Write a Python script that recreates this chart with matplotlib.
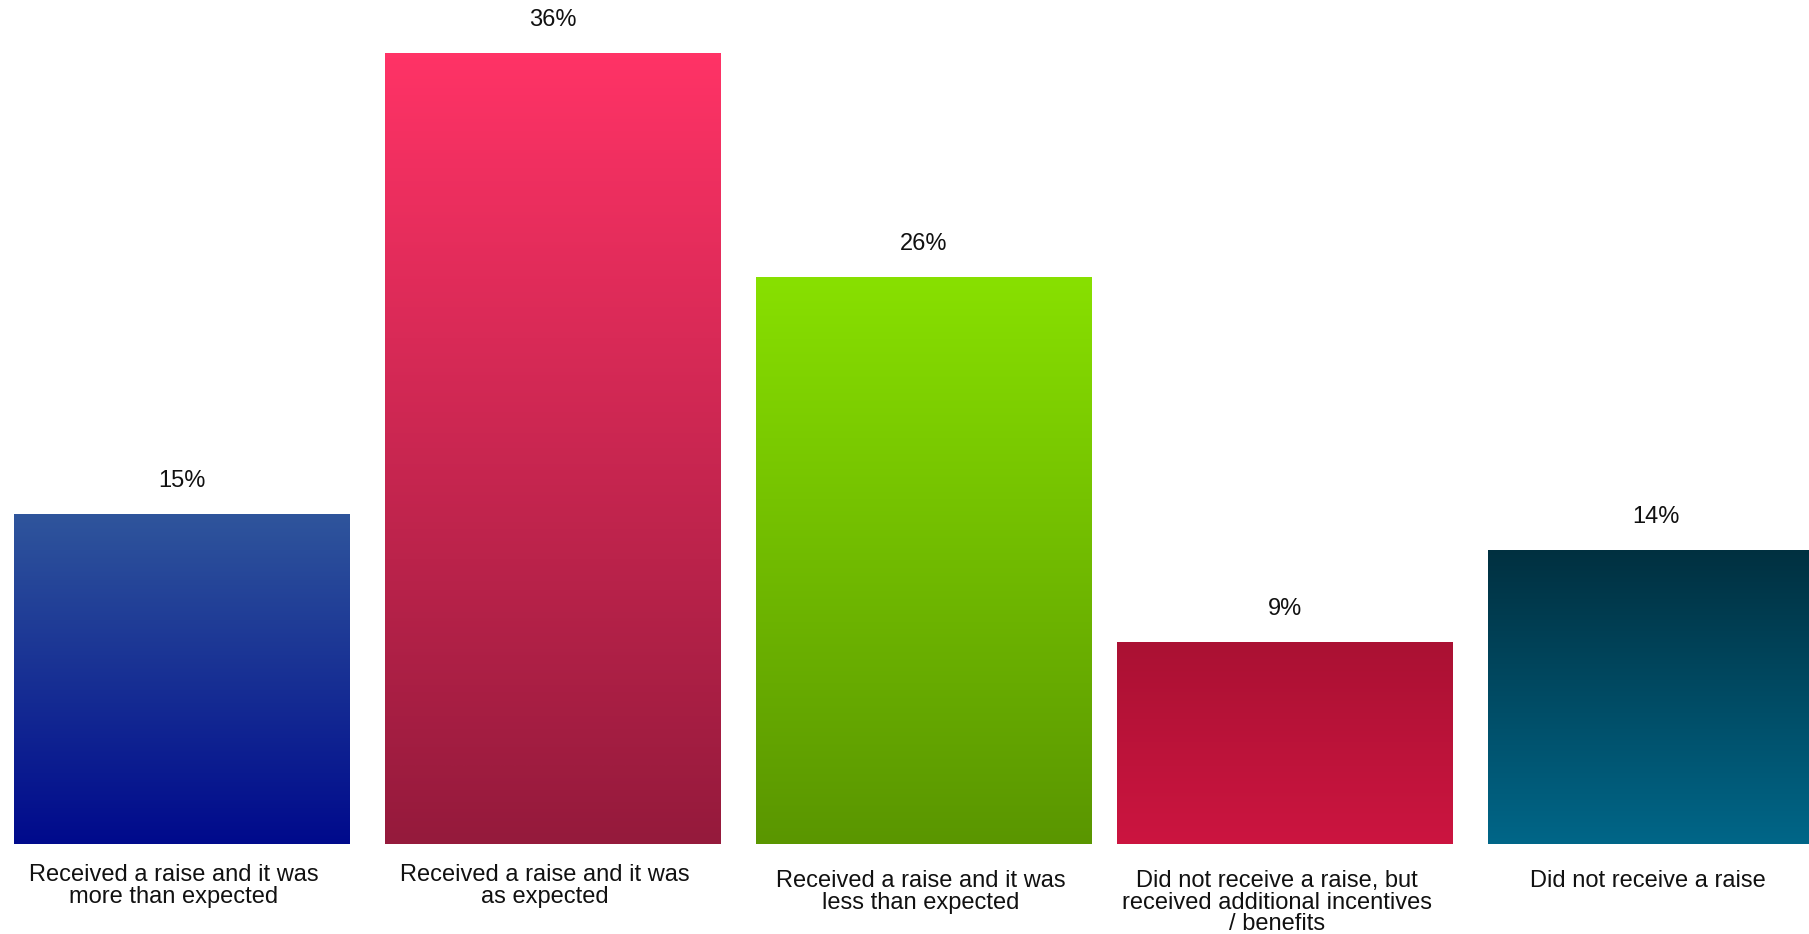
import numpy as np
import matplotlib
matplotlib.use("Agg")
import matplotlib.pyplot as plt
from matplotlib.colors import LinearSegmentedColormap

plt.rcParams['font.family'] = ['Liberation Sans', 'DejaVu Sans']

categories = [
    "Received a raise and it was\nmore than expected",
    "Received a raise and it was\nas expected",
    "Received a raise and it was\nless than expected",
    "Did not receive a raise, but\nreceived additional incentives\n/ benefits",
    "Did not receive a raise",
]
# bar heights as drawn in the picture, and the printed labels
values = [15, 36, 25.8, 9.2, 13.4]
value_labels = ["15%", "36%", "26%", "9%", "14%"]
# (top colour, bottom colour) for each bar gradient
gradients = [
    ("#2F559C", "#000A8C"),
    ("#FF3366", "#951A3C"),
    ("#88E000", "#5A9600"),
    ("#AA1133", "#CC1540"),
    ("#003040", "#006688"),
]

fig = plt.figure(figsize=(18.09, 9.34), dpi=100)
ax = fig.add_axes([0, 90 / 934, 1, 1 - 90 / 934])
ax.set_xlim(-0.489, 4.3844)
ax.set_ylim(0, 38.42)
ax.axis("off")

# slight irregular spacing in the original layout
x = np.arange(len(values)) - np.array([0, 0, 0, 0.028, 0.028])
bars = ax.bar(x, values, width=0.9025, color="none", edgecolor="none")

grad = np.linspace(1, 0, 256).reshape(-1, 1)
for bar, (top, bottom) in zip(bars, gradients):
    cmap = LinearSegmentedColormap.from_list("g", [bottom, top])
    x0, y0 = bar.get_x(), bar.get_y()
    w, h = bar.get_width(), bar.get_height()
    im = ax.imshow(grad, cmap=cmap, vmin=0, vmax=1, aspect="auto",
                   extent=(x0, x0 + w, y0, y0 + h), origin="upper",
                   interpolation="bilinear")
    im.set_clip_path(bar)

for xi, v, lab in zip(x, values, value_labels):
    ax.annotate(lab, (xi, v), xytext=(0, 33), textcoords="offset pixels",
                ha="center", va="center", fontsize=17, color="#111111")

label_drop = [0, 0, 6, 6, 6]
label_shift = [-8, -8, -3, -8, -8]
for xi, cat, d, s in zip(x, categories, label_drop, label_shift):
    ax.annotate(cat, (xi, 0), xytext=(s, -20 - d), textcoords="offset pixels",
                ha="center", va="top", fontsize=17, color="#111111",
                linespacing=0.98, multialignment="center",
                annotation_clip=False)

fig.savefig("out.png", dpi=100)
